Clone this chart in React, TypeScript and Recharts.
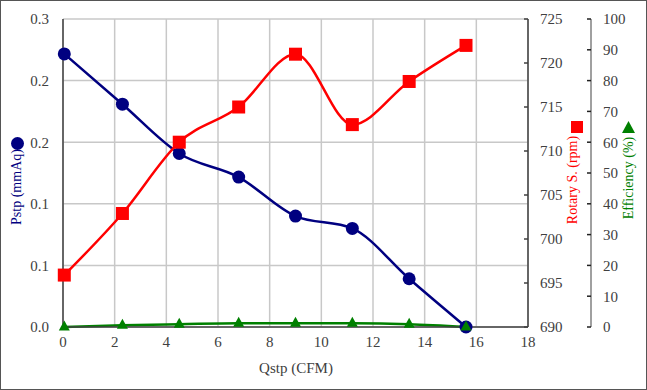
import React from "react";
import { ComposedChart, Line, XAxis, YAxis, CartesianGrid } from "recharts";

// Measured flow (CFM) shared by all three series
const qstp = [0.05, 2.3, 4.5, 6.8, 9.0, 11.2, 13.4, 15.6];
const pstp = [0.266, 0.217, 0.169, 0.146, 0.108, 0.096, 0.047, 0.0];
const rpm = [695.9, 702.9, 711.0, 715.0, 721.0, 713.0, 717.9, 722.0];
const efficiency = [0, 0.6, 0.9, 1.2, 1.2, 1.2, 0.9, 0];

const xTicks = [0, 2, 4, 6, 8, 10, 12, 14, 16, 18];
const pTicks = [0, 0.06, 0.12, 0.18, 0.24, 0.3];
const rpmTicks = [690, 695, 700, 705, 710, 715, 720, 725];
const effTicks = [0, 10, 20, 30, 40, 50, 60, 70, 80, 90, 100];

const data = qstp.map((q, i) => ({
  q,
  p: pstp[i],
  rpm: rpm[i],
  eff: efficiency[i],
}));

const FONT = "'Liberation Serif', 'Times New Roman', serif";
const TICK_COLOR = "#404040";
const NAVY = "#000080";
const RED = "#FF0000";
const GREEN = "#008000";

const tickStyle: React.CSSProperties = { fontFamily: FONT, fontSize: 15 };

const BottomTick = (props: any) => {
  const { x, y, payload } = props;
  return (
    <text x={x} y={y} dy="0.71em" textAnchor="middle" style={tickStyle} fill={TICK_COLOR}>
      {payload.value}
    </text>
  );
};

const LeftTick = (props: any) => {
  const { x, y, payload } = props;
  return (
    <text x={x} y={y} dy="0.355em" textAnchor="end" style={tickStyle} fill={TICK_COLOR}>
      {Number(payload.value).toFixed(1)}
    </text>
  );
};

// right-hand axes: small tick mark on the plot side of the axis line, label on the outside
const RightTick = (props: any) => {
  const { x, y, payload, gap, markColor } = props;
  const ax = x - gap;
  return (
    <g>
      <line x1={ax - 4} x2={ax} y1={y} y2={y} stroke={markColor} strokeWidth={1.5} />
      <text x={x} y={y} dy="0.355em" textAnchor="start" style={tickStyle} fill={TICK_COLOR}>
        {payload.value}
      </text>
    </g>
  );
};

const SquareDot = (props: any) => {
  const { cx, cy, index } = props;
  if (cx == null || cy == null) return null;
  return <rect key={`sq-${index}`} x={cx - 6.5} y={cy - 6.5} width={13} height={13} fill={RED} />;
};

const TriangleDot = (props: any) => {
  const { cx, cy, index } = props;
  if (cx == null || cy == null) return null;
  return (
    <polygon
      key={`tr-${index}`}
      points={`${cx},${cy - 6.5} ${cx - 5.5},${cy + 3.5} ${cx + 5.5},${cy + 3.5}`}
      fill={GREEN}
    />
  );
};

const rotated: React.CSSProperties = {
  position: "absolute",
  fontFamily: FONT,
  fontSize: 14,
  lineHeight: "16px",
  whiteSpace: "nowrap",
  transform: "translate(-50%, -50%) rotate(-90deg)",
};

export default function App() {
  return (
    <div style={{ position: "relative", width: 647, height: 390, background: "#fff" }}>
      <style>{"body{margin:0}"}</style>
      <ComposedChart
        width={647}
        height={390}
        data={data}
        margin={{ top: 19, right: 0, bottom: 0, left: 0 }}
      >
        <CartesianGrid
          yAxisId="p"
          stroke="#c8c8c8"
          strokeWidth={1.5}
          horizontalValues={pTicks}
          verticalValues={xTicks}
        />
        <XAxis
          dataKey="q"
          type="number"
          domain={[0, 18]}
          ticks={xTicks}
          height={63}
          tickSize={0}
          tickMargin={9}
          axisLine={{ stroke: "#404040", strokeWidth: 1.5 }}
          tick={<BottomTick />}
        />
        <YAxis
          yAxisId="p"
          orientation="left"
          width={63}
          domain={[0, 0.3]}
          ticks={pTicks}
          tickSize={0}
          tickMargin={14}
          axisLine={{ stroke: "#404040", strokeWidth: 1.5 }}
          tick={<LeftTick />}
        />
        <YAxis
          yAxisId="r1"
          orientation="right"
          width={63}
          domain={[690, 725]}
          ticks={rpmTicks}
          tickSize={0}
          tickMargin={12}
          axisLine={{ stroke: "#404040", strokeWidth: 1.5 }}
          tick={<RightTick gap={12} markColor="#404040" />}
        />
        <YAxis
          yAxisId="r2"
          orientation="right"
          width={56}
          domain={[0, 100]}
          ticks={effTicks}
          tickSize={0}
          tickMargin={12}
          axisLine={{ stroke: "#808080", strokeWidth: 1.5 }}
          tick={<RightTick gap={12} markColor="#202020" />}
        />
        <Line
          yAxisId="p"
          dataKey="p"
          type="monotone"
          stroke={NAVY}
          strokeWidth={2.5}
          dot={{ r: 6.5, fill: NAVY, stroke: NAVY, strokeWidth: 0 }}
          isAnimationActive={false}
        />
        <Line
          yAxisId="r1"
          dataKey="rpm"
          type="monotone"
          stroke={RED}
          strokeWidth={2.5}
          dot={<SquareDot />}
          isAnimationActive={false}
        />
        <Line
          yAxisId="r2"
          dataKey="eff"
          type="monotone"
          stroke={GREEN}
          strokeWidth={2.5}
          dot={<TriangleDot />}
          isAnimationActive={false}
        />
      </ComposedChart>

      {/* axis titles */}
      <div style={{ position: "absolute", left: 11, top: 137, width: 13, height: 13, borderRadius: "50%", background: NAVY }} />
      <div style={{ ...rotated, left: 17, top: 187, color: NAVY }}>Pstp (mmAq)</div>

      <div style={{ position: "absolute", left: 571, top: 121, width: 12, height: 12, background: RED }} />
      <div style={{ ...rotated, left: 573, top: 180, color: RED }}>Rotary S. (rpm)</div>

      <svg style={{ position: "absolute", left: 622, top: 121 }} width={13} height={12}>
        <polygon points="6.5,0 0,12 13,12" fill={GREEN} />
      </svg>
      <div style={{ ...rotated, left: 629, top: 178, color: GREEN }}>Efficiency (%)</div>

      <div
        style={{
          position: "absolute",
          left: 296,
          top: 368,
          transform: "translate(-50%, -50%)",
          fontFamily: FONT,
          fontSize: 15,
          color: "#404040",
          whiteSpace: "nowrap",
        }}
      >
        Qstp (CFM)
      </div>

      <div
        style={{
          position: "absolute",
          inset: 0,
          border: "1px solid #555",
          pointerEvents: "none",
        }}
      />
    </div>
  );
}
